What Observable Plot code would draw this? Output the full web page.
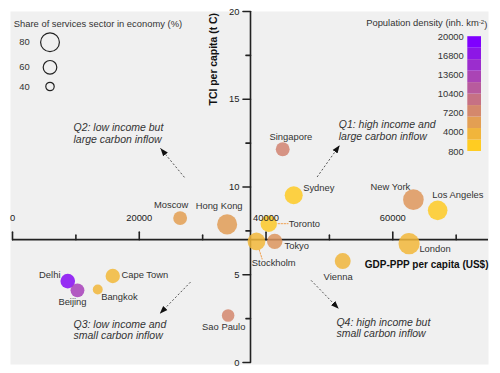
<!DOCTYPE html>
<html><head><meta charset="utf-8">
<script src="https://cdn.jsdelivr.net/npm/d3@7"></script>
<script src="https://cdn.jsdelivr.net/npm/@observablehq/plot@0.6"></script>
<style>
body{margin:0;background:#fff;}
#wrap{position:relative;width:500px;height:373px;}
#wrap svg{position:absolute;}
</style></head><body><div id="wrap"></div>
<script>
// ---------- data ----------
const cities   = ["Moscow","Hong Kong","Delhi","Beijing","Bangkok","Cape Town","Sao Paulo","Singapore","Sydney","New York","Los Angeles","Toronto","Tokyo","Stockholm","London","Vienna"];
const gdp      = [26450, 33860, 8720, 10250, 13450, 15820, 34020, 42630, 44370, 63250, 67080, 40430, 41370, 38490, 62570, 52100];
const tci      = [8.23, 7.87, 4.64, 4.11, 4.16, 4.93, 2.68, 12.15, 9.53, 9.28, 8.67, 7.91, 6.90, 6.90, 6.77, 5.78];
const services = [61, 85, 64, 61, 46, 63, 56, 61, 77, 87, 83, 71, 67, 76, 89, 69];
const density  = [5000, 5300, 19000, 14000, 2900, 2700, 7300, 7700, 1000, 5800, 1000, 1200, 6000, 2800, 2800, 3000];

const xMajorTicks = [0, 20000, 40000, 60000];
const xMinorTicks = [10000, 30000, 50000, 70000];
const yMajorTicks = [0, 5, 10, 15, 20];
const yMinorTicks = [2.5, 7.5, 12.5, 17.5];
const sizeLegendValues = [80, 60, 40];
const densityTicks = [800, 4000, 7200, 10400, 13600, 16800, 20000];
const quadrantNotes = ["Q1: high income and\nlarge carbon inflow", "Q2: low income but\nlarge carbon inflow", "Q3: low income and\nsmall carbon inflow", "Q4: high income but\nsmall carbon inflow"];

// ---------- layout ----------
const FONT = '"Liberation Sans", Arial, Helvetica, sans-serif';
const X_CROSS = 37550, Y_CROSS = 7;
const rScale = {type: "linear", domain: [40, 80], range: [4.2, 9.4]};
const colorScale = {type: "linear", domain: [800, 20000], range: ["#ffcc22", "#7f00ff"], interpolate: "rgb"};
const labelLayout = {
  "Moscow": [-9, -13.4, "middle"], "Hong Kong": [-8, -18, "middle"], "Delhi": [-7.3, -6.4, "end"],
  "Beijing": [-5, 12, "middle"], "Bangkok": [3.4, 7.7, "start"], "Cape Town": [8.7, -1.2, "start"],
  "Sao Paulo": [-4.4, 11.7, "middle"], "Singapore": [8.2, -12.3, "middle"], "Sydney": [9.4, -7.5, "start"],
  "New York": [-23, -12.6, "middle"], "Los Angeles": [20.2, -15, "middle"], "Toronto": [20, 0, "start"],
  "Tokyo": [9.8, 4.7, "start"], "Stockholm": [17.3, 21.9, "middle"], "London": [10.3, 5, "start"],
  "Vienna": [-4.6, 16, "middle"]
};
const noteAt = [[51470, 13.22], [9620, 13.07], [9620, 1.87], [51100, 1.98]];
const arrowAt = [[48060, 10.57, 51620, 12.38], [27130, 10.55, 23340, 12.21], [28080, 4.58, 23230, 2.78], [47110, 4.68, 51470, 3.06]];

const rows = cities.map((c, i) => ({city: c, gdp: gdp[i], tci: tci[i], services: services[i], density: density[i]}));
const notes = quadrantNotes.map((t, i) => ({text: t, x: noteAt[i][0], y: noteAt[i][1]}));
const arrows = arrowAt.map(a => ({x1: a[0], y1: a[1], x2: a[2], y2: a[3]}));

const tickShape = {draw(ctx, l) { ctx.moveTo(0, 0); ctx.lineTo(0, -l); }};
const segShape = s => ({draw(ctx, l) { ctx.moveTo(0, -s); ctx.lineTo(0, -l); }});
const arrowHead = () => {
  const m = d3.create("svg:marker")
    .attr("viewBox", "-8 -4 8 8").attr("markerWidth", 8).attr("markerHeight", 8)
    .attr("markerUnits", "userSpaceOnUse").attr("orient", "auto").attr("refX", 0).attr("refY", 0);
  m.append("path").attr("d", "M-8,-3L0,0L-8,3Z").attr("fill", "#111").attr("stroke", "none");
  return m.node();
};

const byCity = Object.fromEntries(rows.map(d => [d.city, d]));

const main = Plot.plot({
  width: 500, height: 373,
  marginLeft: 12, marginRight: 12, marginTop: 11, marginBottom: 11,
  x: {domain: [0, 75100], axis: null},
  y: {domain: [0, 20], axis: null},
  r: rScale,
  color: colorScale,
  style: {fontFamily: FONT, background: "transparent", overflow: "visible"},
  marks: [
    Plot.frame({fill: "#f0f0f0", stroke: null, insetLeft: -2, insetBottom: -2}),
    Plot.ruleY([Y_CROSS], {y: d => d, stroke: "#222", strokeWidth: 1.6}),
    Plot.ruleX([X_CROSS], {x: d => d, stroke: "#222", strokeWidth: 1.6}),
    Plot.vector(xMajorTicks, {x: d => d, y: () => Y_CROSS, length: 7.5, rotate: 0, anchor: "start", shape: tickShape, stroke: "#222", strokeWidth: 1.6}),
    Plot.vector(xMinorTicks, {x: d => d, y: () => Y_CROSS, length: 4.5, rotate: 0, anchor: "start", shape: tickShape, stroke: "#222", strokeWidth: 1.6}),
    Plot.vector(yMajorTicks, {x: () => X_CROSS, y: d => d, length: 7.5, rotate: -90, anchor: "start", shape: tickShape, stroke: "#222", strokeWidth: 1.6}),
    Plot.vector(yMinorTicks, {x: () => X_CROSS, y: d => d, length: 4.5, rotate: -90, anchor: "start", shape: tickShape, stroke: "#222", strokeWidth: 1.6}),
    Plot.link(arrows, {x1: "x1", y1: "y1", x2: "x2", y2: "y2", stroke: "#555", strokeWidth: 1, strokeDasharray: "2,2", markerEnd: arrowHead}),
    Plot.vector([byCity["Toronto"]], {x: "gdp", y: "tci", rotate: 90, length: 19.3, anchor: "start", shape: segShape(9.3), stroke: "#f0a050", strokeWidth: 1, strokeDasharray: "1.5,1.5"}),
    Plot.vector([byCity["Stockholm"]], {x: "gdp", y: "tci", rotate: 162, length: 18.5, anchor: "start", shape: segShape(8.8), stroke: "#f0a050", strokeWidth: 1, strokeDasharray: "1.5,1.5"}),
    Plot.dot(rows, {x: "gdp", y: "tci", r: "services", fill: "density", fillOpacity: 0.85, stroke: null}),
    ...rows.map(d => {
      const [dx, dy, anchor] = labelLayout[d.city];
      return Plot.text([d], {x: "gdp", y: "tci", text: "city", dx, dy, textAnchor: anchor, fontSize: 9.4, fill: "#333"});
    }),
    Plot.text(xMajorTicks, {x: d => d, y: () => Y_CROSS, text: d => String(d), dy: -22, fontSize: 9.4, fill: "#222"}),
    Plot.text(yMajorTicks, {x: () => X_CROSS, y: d => d, text: d => String(d), dx: -11, textAnchor: "end", fontSize: 9.4, fill: "#222"}),
    Plot.text(["TCI per capita (t C)"], {x: () => X_CROSS, y: () => 20, text: d => d, rotate: -90, textAnchor: "end", dx: -37, dy: 1.5, fontSize: 10.4, fontWeight: "bold", fill: "#111"}),
    Plot.text(["GDP-PPP per capita (US$)"], {x: () => 75100, y: () => Y_CROSS, text: d => d, textAnchor: "end", dy: 24.7, fontSize: 10, fontWeight: "bold", fill: "#111"}),
    Plot.text(notes, {x: "x", y: "y", text: "text", textAnchor: "start", fontStyle: "italic", fontSize: 10.5, lineHeight: 1.13, fill: "#333"})
  ]
});
main.style.left = "0px"; main.style.top = "0px";
document.getElementById("wrap").appendChild(main);

// ---------- size legend ----------
// circles are stacked with equal gaps, so the vertical spacing grows with circle size (pow scale)
const sizeLegend = Plot.plot({
  width: 200, height: 100, margin: 0,
  x: {axis: null},
  y: {type: "pow", exponent: 1.8, domain: [40, 80], range: [86, 41.7], axis: null},
  r: rScale,
  style: {fontFamily: FONT, background: "transparent", overflow: "visible"},
  marks: [
    Plot.text(["Share of services sector in economy (%)"], {frameAnchor: "top-left", text: d => d, dx: 13.3, dy: 19.5, textAnchor: "start", fontSize: 9.4, fill: "#333"}),
    Plot.dot(sizeLegendValues, {y: d => d, r: d => d, frameAnchor: "left", dx: 49.5, fill: "none", stroke: "#222", strokeWidth: 1.2}),
    Plot.text(sizeLegendValues, {y: d => d, text: d => String(d), frameAnchor: "left", dx: 29.3, textAnchor: "end", fontSize: 9.4, fill: "#333"})
  ]
});
sizeLegend.style.left = "0px"; sizeLegend.style.top = "0px";
document.getElementById("wrap").appendChild(sizeLegend);

// ---------- colour legend ----------
const nBands = 10;
const bandStep = (colorScale.domain[1] - colorScale.domain[0]) / nBands;
const bands = d3.range(nBands).map(i => ({
  y1: colorScale.domain[0] + i * bandStep,
  y2: colorScale.domain[0] + (i + 1) * bandStep,
  v: colorScale.domain[0] + i * (colorScale.domain[1] - colorScale.domain[0]) / (nBands - 1)
}));
const colorLegend = Plot.plot({
  width: 150, height: 160,
  marginLeft: 117.3, marginRight: 19, marginTop: 0, marginBottom: 0,
  x: {axis: null},
  y: {domain: colorScale.domain, range: [151, 36.2], axis: null},
  color: colorScale,
  style: {fontFamily: FONT, background: "transparent", overflow: "visible"},
  marks: [
    Plot.rect(bands, {y1: "y1", y2: "y2", fill: "v"}),
    Plot.text(densityTicks, {y: d => d, text: d => String(d), frameAnchor: "left", dx: -4, textAnchor: "end", fontSize: 9.4, fill: "#333"}),
    Plot.text(["Population density (inh. km-2)"], {frameAnchor: "top-right", text: d => d, dx: 5.8, dy: 19.3, textAnchor: "end", fontSize: 9.4, fill: "#333"})
  ]
});
colorLegend.style.left = "350px"; colorLegend.style.top = "0px";
document.getElementById("wrap").appendChild(colorLegend);

// superscript for km-2
d3.select(colorLegend).selectAll("text").each(function() {
  const t = this.textContent;
  if (t.includes("km-2")) {
    const sel = d3.select(this);
    sel.text(null);
    sel.append("tspan").text("Population density (inh. km");
    sel.append("tspan").attr("dy", "-0.45em").attr("font-size", "0.65em").text("-2");
    sel.append("tspan").attr("dy", "0.45em").text(")");
  }
});
</script></body></html>
